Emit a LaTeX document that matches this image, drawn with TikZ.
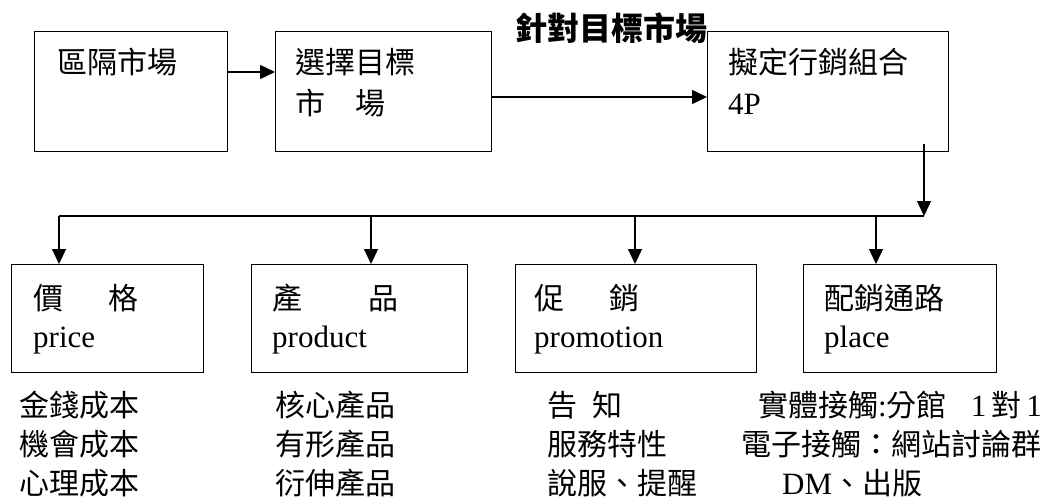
\documentclass[tikz,border=0pt]{standalone}
\usepackage{fontspec}
\setmainfont{Liberation Serif}
\newfontfamily\cjk{Noto Sans CJK TC}
\usetikzlibrary{arrows.meta,calc}
\newcommand{\rl}[1]{{\rmfamily\fontsize{31}{40}\selectfont #1}}
\tikzset{
  box/.style={draw, line width=1.4pt, rectangle, inner sep=0pt, anchor=north west},
  txt/.style={anchor=base west, inner sep=0pt, font=\cjk\fontsize{30}{40}\selectfont},
  lat/.style={anchor=base west, inner sep=0pt, font=\rmfamily\fontsize{31}{40}\selectfont},
  arr/.style={line width=1.4pt, -{Triangle[length=15pt,width=14pt]}},
  ln/.style={line width=1.4pt},
}
\begin{document}
\begin{tikzpicture}[x=1pt,y=-1pt]
\useasboundingbox (0,0) rectangle (1054,500);
% top boxes
\node[box, minimum width=193pt, minimum height=120pt] (b1) at (34,31) {};
\node[box, minimum width=216pt, minimum height=120pt] (b2) at (275,31) {};
\node[box, minimum width=241pt, minimum height=120pt] (b3) at (707,31) {};
\node[txt] (t1) at (57,74) {區隔市場};
\node[txt] (t2a) at (295,74) {選擇目標};
\node[txt] (t2b) at (295,114) {市　場};
\node[txt] (t3a) at (728,74) {擬定行銷組合};
\node[lat] (t3b) at (728,114) {4P};
\node[anchor=base west, inner sep=0pt, font=\cjk\bfseries\fontsize{32}{40}\selectfont] (title) at (515,41) {針對目標市場};
% arrows top
\coordinate (a1) at (0,72);
\coordinate (a2) at (0,97);
\draw[arr] (b1.east |- a1) -- (b2.west |- a1);
\draw[arr] (b2.east |- a2) -- (b3.west |- a2);
% bottom boxes
\node[box, minimum width=192pt, minimum height=108pt] (p1) at (11,264) {};
\node[box, minimum width=216pt, minimum height=108pt] (p2) at (251,264) {};
\node[box, minimum width=241pt, minimum height=108pt] (p3) at (515,264) {};
\node[box, minimum width=193pt, minimum height=108pt] (p4) at (803,264) {};
\node[txt] (q1a) at (33,309) {價\hspace{1.5em}格};
\node[lat] (q1b) at (33,347) {price};
\node[txt] (q2a) at (272,309) {產\hspace{2.2em}品};
\node[lat] (q2b) at (272,347) {product};
\node[txt] (q3a) at (534,309) {促\hspace{1.5em}銷};
\node[lat] (q3b) at (534,347) {promotion};
\node[txt] (q4a) at (824,309) {配銷通路};
\node[lat] (q4b) at (824,347) {place};
% connectors
\coordinate (s) at (924,144);
\coordinate (j) at (924,216);
\coordinate (k1) at (59,216);
\coordinate (k2) at (371,216);
\coordinate (k3) at (635,216);
\coordinate (k4) at (876,216);
\draw[arr] (s) -- (j);
\draw[ln] (j) -- (k1);
\draw[arr] (k1) -- (k1 |- p1.north);
\draw[arr] (k2) -- (k2 |- p2.north);
\draw[arr] (k3) -- (k3 |- p3.north);
\draw[arr] (k4) -- (k4 |- p4.north);
% lists
\node[txt] (c1a) at (19,416) {金錢成本};
\node[txt] (c1b) at (19,455) {機會成本};
\node[txt] (c1c) at (19,494) {心理成本};
\node[txt] (c2a) at (275,416) {核心產品};
\node[txt] (c2b) at (275,455) {有形產品};
\node[txt] (c2c) at (275,494) {衍伸產品};
\node[txt] (c3a) at (547,416) {告\hspace{0.5em}知};
\node[txt] (c3b) at (547,455) {服務特性};
\node[txt] (c3c) at (547,494) {說服、提醒};
\node[txt] (c4a) at (758,416) {實體接觸\rl{:}分館\hspace{0.8em}\rl{1}\,對\,\rl{1}};
\node[txt] (c4b) at (741,455) {電子接觸：網站討論群};
\node[txt] (c4c) at (782,494) {\rl{DM}、出版};
\end{tikzpicture}
\end{document}
